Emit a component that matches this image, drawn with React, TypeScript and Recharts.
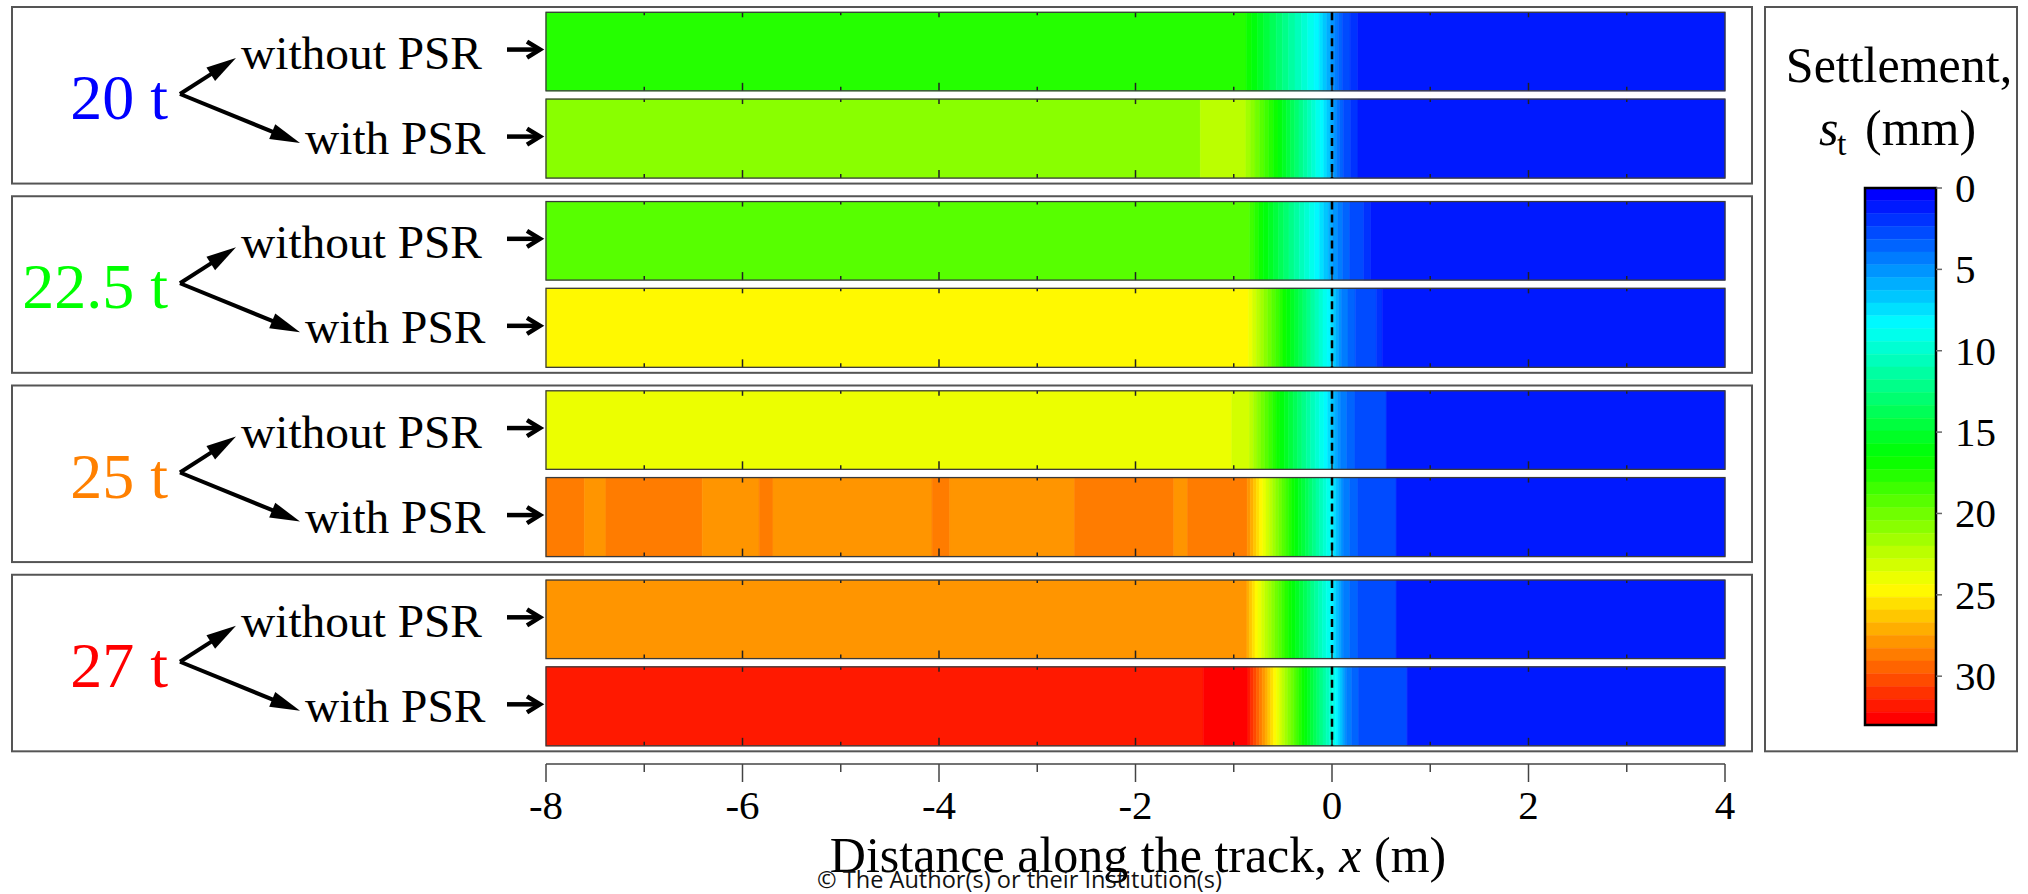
import React from 'react'
import { ComposedChart, XAxis, YAxis, ReferenceArea, ReferenceLine } from 'recharts'

// colour scale of the settlement bar (mm)
const sMin = 0
const sMax = 33
const nLevels = 42
const barTicks = [0, 5, 10, 15, 20, 25, 30]

// distance along the track (m)
const xTicks = [-8, -7, -6, -5, -4, -3, -2, -1, 0, 1, 2, 3, 4]

const loads = ['20 t', '22.5 t', '25 t', '27 t']
const loadColors = ['#0000ff', '#00ff00', '#ff8000', '#ff0000']
const cases = ['without PSR', 'with PSR']

// settlement profiles: x (m) and s (mm)
const x20wo = [-8, -0.9, -0.82, -0.5, -0.15, 0, 0.1, 0.3, 4]
const s20wo = [17.7, 17.7, 16.5, 12.5, 8.25, 5.2, 3.2, 1.2, 1.2]
const x20w = [-8, -1.34, -1.34, -0.9, -0.55, -0.1, 0, 0.1, 0.3, 4]
const s20w = [20.8, 20.8, 22.4, 22.4, 16.5, 8.25, 5.8, 3.3, 1.2, 1.2]
const x225wo = [-8, -0.88, -0.7, -0.15, 0, 0.15, 0.39, 0.4, 4]
const s225wo = [19.6, 19.6, 16.5, 8.25, 5.6, 3.3, 2.0, 1.2, 1.2]
const x225w = [-8, -0.87, -0.46, -0.03, 0.1, 0.25, 0.5, 0.52, 4]
const s225w = [24.8, 24.8, 16.5, 8.25, 4.6, 3.0, 2.2, 1.2, 1.2]
const x25wo = [-8, -1.02, -1.02, -0.86, -0.53, -0.06, 0.1, 0.27, 0.55, 0.56, 4]
const s25wo = [24.0, 24.0, 23.2, 23.2, 16.5, 8.25, 4.4, 2.8, 2.5, 1.2, 1.2]
const x25w = [-8, -7.61, -7.61, -7.39, -7.39, -6.41, -6.41, -5.83, -5.83, -5.69, -5.69, -4.07, -4.07, -3.89,
  -3.89, -2.62, -2.62, -1.61, -1.61, -1.47, -1.47, -0.88, -0.72, -0.38, 0, 0.12, 0.3, 0.65, 0.66, 4]
const s25w = [28.7, 28.7, 27.9, 27.9, 28.7, 28.7, 27.9, 27.9, 28.7, 28.7, 27.9, 27.9, 28.7, 28.7,
  27.9, 27.9, 28.7, 28.7, 27.9, 27.9, 28.7, 28.7, 24.75, 16.5, 8.25, 4.5, 2.8, 2.5, 1.2, 1.2]
const x27wo = [-8, -0.88, -0.77, -0.41, 0, 0.12, 0.3, 0.65, 0.66, 4]
const s27wo = [27.9, 27.9, 24.75, 16.5, 8.25, 4.5, 2.8, 2.5, 1.2, 1.2]
const x27w = [-8, -1.31, -1.31, -0.87, -0.58, -0.28, 0.05, 0.15, 0.3, 0.76, 0.77, 4]
const s27w = [31.8, 31.8, 32.6, 32.6, 24.75, 16.5, 8.25, 4.5, 2.8, 2.5, 1.2, 1.2]

const profiles = [
  [x20wo, s20wo], [x20w, s20w],
  [x225wo, s225wo], [x225w, s225w],
  [x25wo, s25wo], [x25w, s25w],
  [x27wo, s27wo], [x27w, s27w],
]

const SERIF = '"Liberation Serif", "Times New Roman", serif'
const W = 2028
const H = 894
const TOP = 7
const UNIT = 189.25 // one panel in y units
const rowTop = [0.028, 0.4865]
const rowBot = [0.443, 0.904]

const bw = (sMax - sMin) / nLevels
const level = (s: number) => Math.min(nLevels - 1, Math.max(0, Math.floor((s - sMin) / bw)))

function bandColor(k: number) {
  const f = k / (nLevels - 1)
  let r = 0, g = 0, b = 0
  if (f < 0.25) { g = f / 0.25; b = 1 }
  else if (f < 0.5) { g = 1; b = 1 - (f - 0.25) / 0.25 }
  else if (f < 0.75) { r = (f - 0.5) / 0.25; g = 1 }
  else { r = 1; g = 1 - (f - 0.75) / 0.25 }
  const c = (v: number) => Math.round(v * 255)
  return `rgb(${c(r)},${c(g)},${c(b)})`
}

// filled contour bands along one strip
function contourBands(xs: number[], ss: number[]) {
  const out: { a: number; b: number; k: number }[] = []
  const push = (a: number, b: number, k: number) => {
    if (b - a <= 1e-9) return
    const last = out[out.length - 1]
    if (last && last.k === k && Math.abs(last.b - a) < 1e-9) last.b = b
    else out.push({ a, b, k })
  }
  for (let i = 0; i < xs.length - 1; i++) {
    const x0 = xs[i], x1 = xs[i + 1], s0 = ss[i], s1 = ss[i + 1]
    if (x1 <= x0) continue
    if (s0 === s1) { push(x0, x1, level(s0)); continue }
    const lo = Math.min(s0, s1), hi = Math.max(s0, s1)
    const cuts: number[] = []
    for (let m = Math.ceil(lo / bw); m * bw < hi; m++) {
      if (m * bw > lo) cuts.push(x0 + ((m * bw - s0) / (s1 - s0)) * (x1 - x0))
    }
    cuts.sort((p, q) => p - q)
    let a = x0
    for (const c of [...cuts, x1]) {
      const mid = s0 + (((a + c) / 2 - x0) / (x1 - x0)) * (s1 - s0)
      push(a, c, level(mid))
      a = c
    }
  }
  return out
}

const StripFrame = (props: any) => {
  const { x, y, width, height } = props
  const span = xTicks[xTicks.length - 1] - xTicks[0]
  return (
    <g>
      {xTicks.slice(1, -1).map((v) => {
        const tx = x + ((v - xTicks[0]) / span) * width
        const major = v % 2 === 0
        return (
          <g key={v} stroke="#222" strokeWidth={1.5}>
            <line x1={tx} x2={tx} y1={y} y2={y + (major ? 5 : 3)} />
            <line x1={tx} x2={tx} y1={y + height} y2={y + height - (major ? 8 : 4)} />
          </g>
        )
      })}
      <rect x={x} y={y} width={width} height={height} fill="none" stroke="#3a3a3a" strokeWidth={1.3} />
    </g>
  )
}

const BottomTick = (props: any) => {
  const { x, y, payload } = props
  const v = payload.value
  const major = v % 2 === 0
  return (
    <g>
      <line x1={x} x2={x} y1={y} y2={y + (major ? 18 : 8)} stroke="#444" strokeWidth={1.5} />
      {major && (
        <text x={x} y={y + 55} textAnchor="middle" style={{ fontSize: 41, fontFamily: SERIF, fill: '#000' }}>
          {v}
        </text>
      )}
    </g>
  )
}

const BarTick = (props: any) => {
  const { x, y, payload } = props
  return (
    <text x={x} y={y} dy="0.34em" textAnchor="start" style={{ fontSize: 41, fontFamily: SERIF, fill: '#000' }}>
      {payload.value}
    </text>
  )
}

function Arrow({ x0, y0, x1, y1 }: { x0: number; y0: number; x1: number; y1: number }) {
  const L = Math.hypot(x1 - x0, y1 - y0)
  const ux = (x1 - x0) / L, uy = (y1 - y0) / L
  const hl = 30, hw = 8
  const bx = x1 - ux * hl, by = y1 - uy * hl
  return (
    <g>
      <line x1={x0} y1={y0} x2={bx + ux * 4} y2={by + uy * 4} stroke="#000" strokeWidth={4} />
      <polygon points={`${x1},${y1} ${bx - uy * hw},${by + ux * hw} ${bx + uy * hw},${by - ux * hw}`} fill="#000" />
    </g>
  )
}

function Decor() {
  return (
    <svg width={W} height={H} style={{ position: 'absolute', left: 0, top: 0 }}>
      {loads.map((name, p) => {
        const T = TOP + p * UNIT
        return (
          <g key={name}>
            <rect x={12} y={T} width={1740} height={0.933 * UNIT} fill="none" stroke="#555" strokeWidth={2} />
            <text x={168} y={T + 112} textAnchor="end" fontSize={64} fontFamily={SERIF} fill={loadColors[p]}>
              {name}
            </text>
            <Arrow x0={180} y0={T + 87} x1={236} y1={T + 51} />
            <Arrow x0={180} y0={T + 87} x1={300} y1={T + 136} />
            <text x={241} y={T + 62} fontSize={47.4} fontFamily={SERIF} fill="#000">{cases[0]}</text>
            <text x={305} y={T + 147} fontSize={47.4} fontFamily={SERIF} fill="#000">{cases[1]}</text>
            {[0, 1].map((r) => {
              const yc = T + ((rowTop[r] + rowBot[r]) / 2) * UNIT - 2
              return (
                <g key={r} stroke="#000" strokeWidth={4.5} fill="none">
                  <line x1={507} x2={539} y1={yc} y2={yc} />
                  <polyline points={`${527},${yc - 8} ${540},${yc} ${527},${yc + 8}`} />
                </g>
              )
            })}
          </g>
        )
      })}
      <rect x={1765} y={TOP} width={252} height={0.933 * UNIT + 3 * UNIT} fill="none" stroke="#555" strokeWidth={2} />
      <text x={1899} y={82} textAnchor="middle" fontSize={50} fontFamily={SERIF} fill="#000">Settlement,</text>
      <text y={145} fontSize={50} fontFamily={SERIF} fill="#000">
        <tspan x={1819} fontStyle="italic">s</tspan>
        <tspan x={1837} dy={10} fontSize={34}>t</tspan>
        <tspan x={1865} dy={-10}>(mm)</tspan>
      </text>
      <text x={1138} y={872} textAnchor="middle" fontSize={50} fontFamily={SERIF} fill="#000">
        Distance along the track, <tspan fontStyle="italic">x</tspan> (m)
      </text>
      <text x={817} y={888} fontSize={23} fontFamily='"Open Sans", "Noto Sans", sans-serif' fill="#111"
        textLength={405} lengthAdjust="spacingAndGlyphs">
        © The Author(s) or their Institution(s)
      </text>
    </svg>
  )
}

function ColourBar() {
  return (
    <div style={{ position: 'absolute', left: 1765, top: TOP }}>
      <ComposedChart width={252} height={746} margin={{ top: 181, right: 0, bottom: 28, left: 100 }}>
        <XAxis type="number" dataKey="x" domain={[0, 1]} hide allowDataOverflow />
        <YAxis
          type="number"
          domain={[sMin, sMax]}
          reversed
          orientation="right"
          ticks={barTicks}
          interval={0}
          width={81}
          axisLine={false}
          tickSize={6}
          tickMargin={13}
          tickLine={{ stroke: '#666', strokeWidth: 1.5 }}
          tick={<BarTick />}
          allowDataOverflow
        />
        {Array.from({ length: nLevels }, (_, k) => (
          <ReferenceArea
            key={k}
            x1={0}
            x2={1}
            y1={sMin + k * bw}
            y2={sMin + (k + 1) * bw}
            fill={bandColor(k)}
            fillOpacity={1}
            stroke={bandColor(k)}
            strokeWidth={0.5}
            ifOverflow="visible"
          />
        ))}
        <ReferenceArea x1={0} x2={1} y1={sMin} y2={sMax} fill="none" stroke="#000" strokeWidth={2.5} ifOverflow="visible" />
      </ComposedChart>
    </div>
  )
}

export default function App() {
  return (
    <div style={{ position: 'absolute', left: 0, top: 0, width: W, height: H, background: '#fff' }}>
      <Decor />
      <div style={{ position: 'absolute', left: 0, top: 0 }}>
        <ComposedChart width={W} height={H} margin={{ top: TOP, right: W - 1725, bottom: 0, left: 546 }}>
          <XAxis
            type="number"
            dataKey="x"
            domain={[xTicks[0], xTicks[xTicks.length - 1]]}
            ticks={xTicks}
            interval={0}
            allowDataOverflow
            height={H - TOP - 4 * UNIT}
            tickSize={0}
            tickMargin={0}
            tickLine={false}
            axisLine={{ stroke: '#444', strokeWidth: 1.5 }}
            tick={<BottomTick />}
          />
          <YAxis type="number" domain={[0, 4]} reversed hide width={0} allowDataOverflow />
          {profiles.map(([xs, ss], i) => {
            const p = Math.floor(i / 2), r = i % 2
            const y1 = p + rowTop[r], y2 = p + rowBot[r]
            return contourBands(xs, ss).map((seg, j) => (
              <ReferenceArea
                key={`b${i}-${j}`}
                x1={seg.a}
                x2={seg.b}
                y1={y1}
                y2={y2}
                fill={bandColor(seg.k)}
                fillOpacity={1}
                stroke={bandColor(seg.k)}
                strokeWidth={0.6}
                ifOverflow="visible"
              />
            ))
          })}
          {profiles.map((_, i) => {
            const p = Math.floor(i / 2), r = i % 2
            return (
              <ReferenceLine
                key={`d${i}`}
                segment={[{ x: 0, y: p + rowTop[r] }, { x: 0, y: p + rowBot[r] }]}
                stroke="#000"
                strokeWidth={2.5}
                strokeDasharray="8 5"
                ifOverflow="visible"
              />
            )
          })}
          {profiles.map((_, i) => {
            const p = Math.floor(i / 2), r = i % 2
            return (
              <ReferenceArea
                key={`f${i}`}
                x1={xTicks[0]}
                x2={xTicks[xTicks.length - 1]}
                y1={p + rowTop[r]}
                y2={p + rowBot[r]}
                shape={<StripFrame />}
                ifOverflow="visible"
              />
            )
          })}
        </ComposedChart>
      </div>
      <ColourBar />
    </div>
  )
}
